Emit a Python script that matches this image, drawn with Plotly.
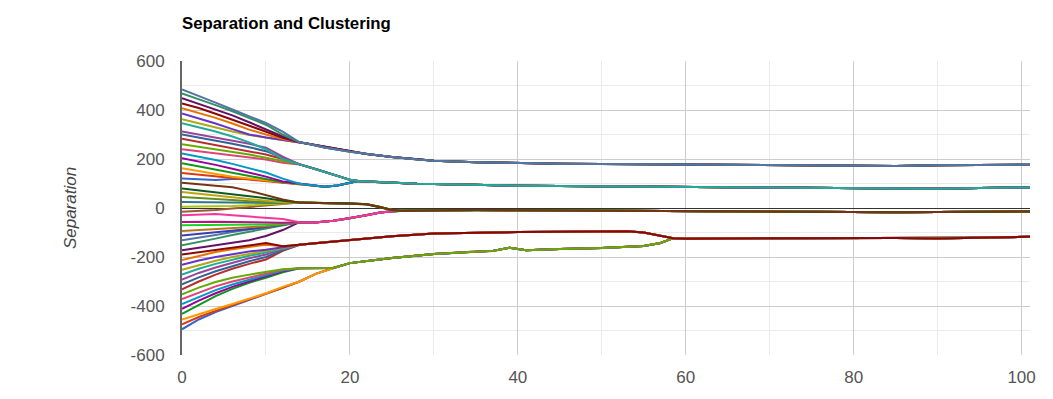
import plotly.graph_objects as go

# ---------------- data ----------------
COLORS = ['#3366cc', '#dc3912', '#ff9900', '#109618', '#990099', '#0099c6', '#dd4477',
          '#66aa00', '#b82e2e', '#316395', '#994499', '#22aa99', '#aaaa11', '#6633cc',
          '#e67300', '#8b0707', '#651067', '#329262', '#5574a6', '#3b3eac', '#b77322',
          '#16d620', '#b91383', '#f4359e', '#9c5935', '#a9c413', '#2a778d', '#668d1c',
          '#bea413', '#0c5922', '#743411']

X_EARLY = [0, 2, 4, 6, 8, 10, 12]

# values of each series at X_EARLY (series 0 = bottom start ... series 49 = top start)
EARLY = [
    [-495, -455, -425, -400, -375, -352, -328],   # 0
    [-475, -445, -420, -397, -372, -350, -326],   # 1
    [-455, -432, -412, -392, -370, -348, -322],   # 2
    [-432, -395, -360, -330, -305, -285, -262],   # 3
    [-412, -378, -348, -322, -300, -280, -258],   # 4
    [-392, -362, -335, -312, -292, -275, -255],   # 5
    [-372, -345, -320, -300, -283, -268, -252],   # 6
    [-352, -325, -302, -285, -272, -262, -250],   # 7
    [-332, -300, -272, -248, -228, -210, -175],   # 8
    [-312, -283, -258, -236, -217, -200, -172],   # 9
    [-292, -265, -243, -223, -205, -190, -168],   # 10
    [-272, -248, -228, -210, -195, -182, -165],   # 11
    [-252, -232, -215, -200, -187, -176, -162],   # 12
    [-232, -214, -200, -188, -178, -170, -160],   # 13
    [-212, -195, -180, -168, -158, -150, -156],   # 14
    [-190, -180, -170, -160, -150, -143, -156],   # 15
    [-172, -162, -152, -143, -132, -114, -90],    # 16
    [-152, -140, -125, -110, -97, -84, -70],      # 17
    [-132, -122, -110, -98, -88, -78, -68],       # 18
    [-112, -106, -100, -93, -86, -78, -67],       # 19
    [-94, -90, -86, -82, -78, -74, -66],          # 20
    [-70, -70, -70, -69, -68, -67, -64],          # 21
    [-57, -56, -56, -57, -58, -60, -60],          # 22
    [-30, -26, -24, -30, -35, -38, -45],          # 23
    [-15, -12, -8, -2, 4, 10, 16],                # 24
    [5, 5, 6, 8, 11, 14, 18],                     # 25
    [25, 24, 22, 22, 21, 20, 20],                 # 26
    [45, 42, 38, 33, 28, 24, 21],                 # 27
    [65, 58, 50, 42, 35, 28, 23],                 # 28
    [80, 72, 66, 58, 50, 40, 30],                 # 29
    [103, 98, 92, 85, 70, 53, 35],                # 30
    [120, 116, 114, 118, 118, 112, 104],          # 31
    [143, 135, 128, 122, 116, 110, 103],          # 32
    [162, 150, 138, 128, 120, 112, 104],          # 33
    [183, 170, 158, 145, 132, 120, 105],          # 34
    [203, 190, 176, 160, 145, 128, 108],          # 35
    [223, 210, 196, 180, 164, 145, 120],          # 36
    [240, 232, 224, 216, 208, 198, 185],          # 37
    [260, 250, 240, 230, 218, 205, 190],          # 38
    [283, 270, 258, 245, 232, 218, 200],          # 39
    [300, 288, 275, 262, 248, 232, 205],          # 40
    [312, 300, 288, 276, 262, 246, 210],          # 41
    [346, 330, 312, 292, 268, 240, 200],          # 42
    [362, 345, 328, 312, 298, 288, 278],          # 43
    [386, 366, 345, 322, 300, 288, 278],          # 44
    [407, 388, 368, 345, 320, 300, 282],          # 45
    [427, 408, 385, 360, 335, 310, 287],          # 46
    [448, 425, 402, 378, 350, 320, 292],          # 47
    [468, 445, 420, 395, 368, 340, 300],          # 48
    [484, 458, 430, 402, 375, 347, 312],          # 49
]

GROUP = (['D_low_b'] * 3 + ['D_low_a'] * 5 + ['D_up'] * 8 + ['C_low'] * 8 +
         ['C_up'] * 7 + ['B_low'] * 6 + ['B_up'] * 6 + ['A'] * 7)

# paths after the early part
A_X = [14, 15, 17, 20, 22, 25, 28, 30, 35, 40, 45, 50, 55, 60, 65, 70, 75, 80, 85, 90, 95, 101]
A_Y = [268, 262, 247, 230, 220, 208, 198, 193, 187, 183, 181, 180, 179, 177, 176, 175, 175, 174, 171, 174, 176, 177]

B_LOW_X = [14, 15, 17, 18.5, 20]
B_LOW_Y = [99, 95, 87, 92, 104]
B_UP_X = [14, 16, 18, 20]
B_UP_Y = [178, 158, 135, 115]
B_TAIL_X = [21, 23, 25, 28, 30, 35, 40, 45, 50, 55, 60, 65, 70, 75, 80, 85, 88, 90, 95, 101]
B_TAIL_Y = [110, 106, 102, 99, 98, 94, 91, 90, 88, 87, 86, 85, 84, 83, 82, 80, 78, 79, 82, 84]

C_UP_X = [14, 17, 20, 22, 23.5, 25]
C_UP_Y = [22, 20, 19, 15, 5, -8]
C_LOW_X = [14, 15.5, 18, 20, 22, 23.6, 25]
C_LOW_Y = [-58, -60, -52, -42, -30, -18, -13]
C_TAIL_X = [26, 28, 30, 35, 40, 45, 50, 55, 60, 65, 70, 75, 80, 85, 90, 95, 101]
C_TAIL_Y = [-11, -10, -9, -8, -9, -10, -11, -12, -14, -15, -15, -16, -17, -17, -16, -15, -14]

D_UP_X = [14, 17, 20, 25, 30, 35, 40, 45, 50, 53, 55, 57]
D_UP_Y = [-150, -140, -131, -115, -104, -100, -98, -97, -94, -95, -100, -112]
D_LOW_A_X = [14, 16]
D_LOW_A_Y = [-246, -246]
D_LOW_B_X = [14, 16]
D_LOW_B_Y = [-300, -268]
D_LOW_X = [18, 20, 25, 30, 35, 37, 39, 41, 45, 50, 55, 57]
D_LOW_Y = [-245, -225, -204, -188, -178, -175, -162, -172, -167, -163, -155, -143]
D_TAIL_X = [58.5, 60, 65, 70, 75, 80, 85, 90, 95, 101]
D_TAIL_Y = [-123, -125, -124, -124, -122, -124, -122, -124, -121, -117]

Y_TICKS = [-600, -400, -200, 0, 200, 400, 600]
Y_TICK_TEXT = ['-600', '-400', '-200', '0', '200', '400', '600']
X_TICKS = [0, 20, 40, 60, 80, 100]
X_TICK_TEXT = ['0', '20', '40', '60', '80', '100']

PATHS = {
    'A': (A_X, A_Y),
    'B_low': (B_LOW_X + B_TAIL_X, B_LOW_Y + B_TAIL_Y),
    'B_up': (B_UP_X + B_TAIL_X, B_UP_Y + B_TAIL_Y),
    'C_up': (C_UP_X + C_TAIL_X, C_UP_Y + C_TAIL_Y),
    'C_low': (C_LOW_X + C_TAIL_X, C_LOW_Y + C_TAIL_Y),
    'D_up': (D_UP_X + D_TAIL_X, D_UP_Y + D_TAIL_Y),
    'D_low_a': (D_LOW_A_X + D_LOW_X + D_TAIL_X, D_LOW_A_Y + D_LOW_Y + D_TAIL_Y),
    'D_low_b': (D_LOW_B_X + D_LOW_X + D_TAIL_X, D_LOW_B_Y + D_LOW_Y + D_TAIL_Y),
}

# ---------------- figure ----------------
fig = go.Figure()
for i, early in enumerate(EARLY):
    px, py = PATHS[GROUP[i]]
    fig.add_trace(go.Scatter(
        x=X_EARLY + px, y=early + py, mode='lines', name=f'Series {i + 1}',
        line=dict(color=COLORS[i % len(COLORS)], width=2),
        showlegend=False, hoverinfo='skip'))

FONT = 'Arial, Liberation Sans, sans-serif'
fig.update_layout(
    width=1053, height=399,
    margin=dict(l=182, r=23, t=61, b=44, autoexpand=False),
    paper_bgcolor='white', plot_bgcolor='white',
    font=dict(family=FONT, color='#444', size=17),
    title=dict(text='<b>Separation and Clustering</b>', x=182 / 1053, xanchor='left',
               y=1 - 23 / 399, yanchor='middle', font=dict(size=16.8, color='#000', family=FONT)),
    xaxis=dict(range=[0, 101], tickvals=X_TICKS, ticktext=X_TICK_TEXT,
               showgrid=True, gridcolor='#cccccc', gridwidth=1,
               minor=dict(dtick=10, tick0=0, showgrid=True, gridcolor='#ebebeb', gridwidth=1),
               zeroline=False, showline=False, ticks='', ticklabelstandoff=10,
               tickfont=dict(size=17, color='#555')),
    yaxis=dict(range=[-600, 600], tickvals=Y_TICKS, ticktext=Y_TICK_TEXT,
               showgrid=True, gridcolor='#cccccc', gridwidth=1,
               minor=dict(dtick=100, tick0=0, showgrid=True, gridcolor='#ebebeb', gridwidth=1),
               zeroline=True, zerolinecolor='#333333', zerolinewidth=1,
               showline=True, linecolor='#666666', linewidth=2,
               ticks='', ticklabelstandoff=12,
               tickfont=dict(size=17, color='#555'),
               title=dict(text='<i>Separation</i>', standoff=50, font=dict(size=17, color='#444'))),
)

fig.write_html('out.html', config={'displayModeBar': False},
               post_script="document.body.style.margin='0';")
